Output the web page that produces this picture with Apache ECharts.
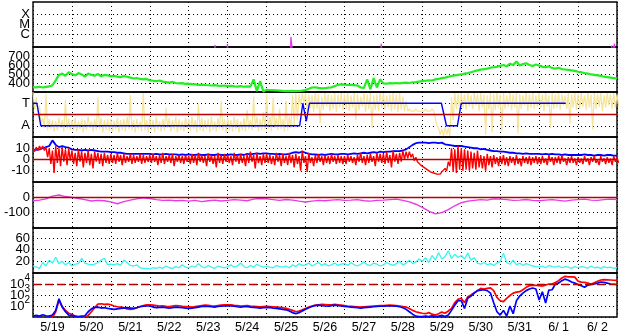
<!DOCTYPE html>
<html><head><meta charset="utf-8">
<script src="https://cdn.jsdelivr.net/npm/echarts@6/dist/echarts.min.js"></script>
<style>html,body{margin:0;padding:0;background:#fff}#c{width:628px;height:334px}</style>
</head><body><div id="c"></div>
<script>
// Day labels (centred on each UT day, 5/19 00UT = 0)
const dayLabels = ['5/19','5/20','5/21','5/22','5/23','5/24','5/25','5/26','5/27','5/28','5/29','5/30','5/31','6/ 1','6/ 2'];

// GOES X-ray flux (W/m2), sparse times (days since 5/19 00UT)
const xrayT = [0, 4.66, 4.675, 4.69, 4.98, 4.995, 5.01, 6.61, 6.625, 6.64, 6.66, 6.675, 8.93, 8.945, 8.96, 14.85, 14.865, 14.88, 14.92, 14.935, 14.95, 15];
const xrayV = [1e-8, 1e-8, 9e-8, 1e-8, 1e-8, 1.1e-7, 1e-8, 1e-8, 5.9e-7, 1.3e-7, 1.1e-7, 1e-8, 1e-8, 1.2e-7, 1e-8, 1e-8, 8e-8, 1e-8, 1e-8, 1.2e-7, 1e-8, 1e-8];
const xrayTicks = [-6, -5, -4];
const xrayTickLabels = ['C', 'M', 'X'];

// Solar wind speed (km/s), every 2 h
const speed = [
355,352,358,350,356,362,375,430,490,505,480,520,
500,485,510,495,470,505,490,480,500,475,490,485,
475,480,470,465,478,470,460,450,455,445,440,445,
430,425,420,428,415,410,405,412,400,395,398,390,
392,388,385,380,382,378,375,372,376,370,368,372,
365,368,362,360,365,358,362,360,440,310,420,305,
325,322,320,318,315,312,310,310,312,310,311,315,
322,335,350,352,345,340,342,348,352,365,380,385,
382,378,380,376,372,350,345,440,330,455,350,440,
395,392,398,396,400,395,402,405,400,408,410,415,
420,425,430,428,440,445,455,460,470,478,485,490,
495,505,510,520,530,540,548,555,560,570,575,580,
590,600,585,615,600,640,595,610,620,600,590,605,
595,580,575,585,565,560,570,555,550,545,540,535,
525,520,510,505,495,490,485,480,470,465,460,455,450];

// IMF angle scatter envelope per 2 h (T = +1, A = -1)
const phiHi = [
2.0,1.5,0.8,-0.3,1.8,-0.4,-0.5,-0.6,-0.3,-0.5,1.3,-0.4,
-0.5,-0.3,-0.6,-0.4,-0.5,-0.2,-0.6,-0.4,1.5,-0.3,-0.5,-0.4,
-0.4,-0.6,-0.3,-0.5,-0.4,-0.2,1.7,-0.5,-0.4,-0.6,1.9,-0.5,
-0.3,-0.5,-0.2,-0.6,-0.4,0.6,-0.3,-0.5,-0.2,-0.4,-0.6,-0.3,
-0.4,-0.2,-0.5,0.9,-0.3,-0.5,-0.4,-0.2,-0.6,-0.3,1.2,-0.4,
-0.3,-0.5,-0.2,-0.4,-0.6,-0.3,0.4,-0.5,1.6,-0.2,-0.4,0.2,
1.8,-0.2,1.5,-0.3,0.5,-0.4,1.2,-0.2,1.7,1.9,1.8,1.9,
1.9,1.8,1.7,1.9,1.8,1.6,1.9,1.8,1.7,1.9,1.8,1.9,
1.8,1.9,1.7,1.9,1.8,1.6,1.9,1.8,1.9,1.7,1.8,1.9,
1.9,1.7,1.8,1.9,1.8,1.9,1.6,1.2,0.5,0.45,0.5,0.45,
0.45,0.5,0.45,0.5,0.4,-1.2,-1.3,-1.1,-1.2,1.5,1.9,1.8,
1.9,1.8,1.9,1.7,1.9,1.8,1.9,1.8,1.7,1.9,1.8,1.9,
1.8,1.9,1.7,1.9,1.8,1.9,1.8,1.7,1.9,1.8,1.9,1.7,
1.9,1.8,1.9,1.7,1.9,1.8,1.9,1.8,1.7,1.9,1.8,1.9,
1.8,1.9,1.7,1.9,1.8,1.9,1.8,1.9,1.7,1.9,1.8,1.9,1.8];
const phiLo = [
0.5,0.2,-0.8,-1.2,-1.4,-1.3,-1.5,-1.4,-1.2,-1.5,-1.3,-1.4,
-1.4,-1.5,-1.3,-1.6,-1.4,-1.2,-1.5,-1.4,-1.3,-1.6,-1.4,-1.5,
-1.5,-1.3,-1.6,-1.4,-1.5,-1.3,-1.4,-1.6,-1.3,-1.5,-1.4,-1.6,
-1.4,-1.6,-1.3,-1.5,-1.4,-1.2,-1.5,-1.3,-1.6,-1.4,-1.5,-1.3,
-1.5,-1.3,-1.6,-1.4,-1.5,-1.3,-1.6,-1.4,-1.5,-1.3,-1.4,-1.6,
-1.4,-1.5,-1.3,-1.6,-1.4,-1.5,-1.3,-1.4,-1.2,-1.5,-1.4,-1.3,
-1.3,-1.5,-1.2,-1.4,-1.3,-1.5,-1.4,-1.2,-1.0,-0.5,0.8,1.0,
0.3,0.6,0.2,0.5,-0.8,0.4,0.7,0.3,0.5,0.2,0.6,0.4,
0.5,0.3,0.6,-0.5,0.4,0.7,0.2,0.5,-1.2,0.4,0.3,0.6,
0.4,0.6,0.3,0.5,0.2,0.4,0.3,0.3,0.3,0.3,0.3,0.3,
0.3,0.3,0.3,0.3,-1.0,-1.8,-1.9,-1.8,-1.9,-0.5,0.5,0.4,
0.6,0.4,0.7,0.5,0.8,0.3,0.6,-1.8,0.5,-1.6,0.4,0.6,
-1.5,0.5,0.7,0.4,0.6,-1.7,0.5,0.8,0.3,0.6,0.5,0.7,
0.6,0.3,0.7,-1.2,0.5,0.6,0.4,0.8,0.5,-0.8,0.6,0.4,
0.5,0.7,0.4,0.6,-1.3,0.5,0.7,0.3,0.6,0.8,0.5,0.6,0.7];

// Sector (T/A) step line
const sectorT = [0, 0.1, 0.2, 6.85, 6.93, 7.02, 7.1, 10.49, 10.62, 10.9, 11.0, 13.68];
const sectorV = [1, 1, -1, -1, 1, -0.6, 1, 1, -1, -1, 1, 1];

// IMF Bt (nT), every 2 h
const bt = [
9,8.5,9,10,11,12,17,13,11,12,11,10.5,
9,8.5,8.5,8,8.5,8,8.5,8,7.5,7,7,7,
6.5,6.5,6,6,5.5,5,5,5,5,5,5,5,
5,4.5,5,4.5,4.5,5,4.5,4.5,4.5,4,4.5,4,
4.5,4,4,4.5,4,4,4.5,4,4,4.5,4,4,
4,4.5,4,4,4.5,4,5,4.5,5,5.5,5,5.5,
5.5,5,5,4.5,5,4.5,4.5,5,6,6.5,6,7,
6,5,4.5,4.5,4,4.5,4,4.5,5,4.5,4.5,5,
5,4.5,5,5.5,5,5.5,6,5.5,6,6.5,6,7,
6.5,7,7,7.5,7.5,7.5,8,9,11,13,14.5,15,
15,15,14.5,15,15,14.5,15,13.5,13,12.5,12,12,
12,11.5,11,10.5,10,10,9,9.5,8.5,8,7.5,7.5,
7,7,6.5,6,6,5.5,5.5,5,5.5,5,5,5,
5,4.5,5,4.5,5,4.5,4.5,4,4.5,4,4,4,
4,4,4.5,4,4,3.5,4,4,3.5,4,4,3.5,3.5];

// IMF Bz (nT), per-2h high / low envelope
const bzHi = [
10,11,12,12,11,10,8,12,10,11,9,10,
8,6,9,7,6,8,5,7,6,5,6,4,
5,4,6,4,5,3,5,4,3,5,4,3,
4,5,3,4,6,3,4,5,3,4,3,4,
3,5,4,6,4,3,5,4,3,6,4,5,
4,3,6,4,5,3,5,7,4,6,3,5,
5,4,3,6,4,5,3,6,4,5,3,8,
3,6,2,4,5,3,4,3,5,3,4,3,
3,4,3,2,4,6,3,4,5,3,6,5,
5,7,4,8,5,6,8,7,7,5,2,-2,
-6,-8,-10,-11,-12,-12,-11,-8,-2,10,9,12,
10,9,8,7,6,8,4,3,5,3,4,2,
3,4,2,3,2,4,1,3,2,3,2,3,
2,3,1,4,2,2,3,4,1,2,3,1,
2,1,3,1,2,3,0,3,1,2,1,3,2];
const bzLo = [
7,8,9,8,2,-4,-12,-3,-6,-2,-5,-1,
-4,-6,-2,-7,-3,-5,-8,-2,-4,-6,-3,-4,
-3,-4,-2,-5,-3,-2,-4,-3,-2,-4,-3,-2,
-3,-2,-5,-3,-4,-2,-3,-6,-2,-3,-4,-2,
-4,-3,-5,-2,-3,-6,-2,-4,-7,-3,-4,-2,
-3,-5,-2,-4,-3,-6,-3,-2,-8,-3,-5,-3,
-3,-4,-5,-2,-6,-3,-5,-3,-7,-4,-10,-3,
-11,-3,-6,-3,-2,-5,-3,-4,-2,-4,-3,-4,
-4,-2,-3,-5,-2,-3,-5,-3,-2,-6,-2,-3,
-4,-3,-7,-2,-4,-2,0,1,2,-1,-2,-5,
-7,-9,-11,-12,-13,-13,-12,-10,-6,-11,-12,-9,
-10,-9,-10,-8,-9,-7,-8,-10,-5,-7,-4,-6,
-4,-5,-6,-3,-5,-4,-6,-3,-4,-5,-3,-4,
-4,-3,-5,-2,-5,-3,-4,-2,-5,-3,-3,-5,
-3,-4,-2,-5,-2,-3,-5,-2,-4,-3,-5,-2,-3];

// Dst (nT), every 4 h
const dst = [
-22,-18,-10,8,15,5,
0,-8,-15,-24,-20,-22,
-30,-42,-28,-18,-10,-3,
-8,-15,-20,-18,-22,-20,
-25,-20,-28,-22,-18,-24,
-20,-15,-18,-22,-12,-8,
-10,-15,-20,-14,-18,-25,
-30,-25,-20,-22,-18,-15,
-20,-18,-15,-22,-25,-20,
-18,-15,-12,-20,-30,-45,
-65,-90,-108,-100,-80,-55,
-35,-25,-20,-15,-18,-10,
-12,-15,-20,-18,-14,-20,
-22,-18,-15,-20,-25,-18,
-15,-12,-18,-20,-15,-12,-14];

// Proton density (/cc), every 2 h
const dens = [
12,10,8,18,12,22,17,27,16,20,14,18,
12,15,16,25,17,15,14,15,18,22,25,14,
15,14,16,13,22,18,13,12,14,9,8,8,
7,9,8,10,8,12,9,8,11,9,14,10,
9,12,10,16,11,9,13,10,8,12,10,9,
11,14,10,12,17,11,9,13,10,15,12,10,
12,10,9,13,11,10,12,9,14,11,16,13,
14,17,12,15,18,13,16,12,14,17,13,15,
16,13,18,14,12,15,19,14,13,17,15,12,
14,18,15,13,16,20,14,17,22,16,19,24,
20,26,18,30,22,35,24,28,38,25,32,27,
30,24,34,22,26,17,15,18,14,16,13,17,
20,34,18,15,22,14,17,13,16,14,12,11,
10,12,9,13,11,10,12,9,11,10,8,11,
9,11,10,8,12,9,10,8,11,9,10,8,9];

// Particle flux, two channels, every 2 h
const fluxRed = [
8,8,8,8,8,8,9,30,320,90,40,22,
18,12,9,9,10,14,30,70,150,160,140,150,
130,100,85,80,70,55,50,55,70,90,110,125,
130,120,110,100,105,95,90,100,110,105,95,90,
85,80,90,100,110,120,115,105,100,110,120,125,
130,125,115,110,100,105,110,100,95,90,85,90,
95,90,85,80,75,70,60,50,40,30,35,45,
60,80,100,120,130,140,135,125,130,140,130,120,
110,100,95,90,85,80,85,90,95,100,105,110,
110,115,120,115,110,100,90,80,60,40,30,25,
22,20,25,18,15,20,28,22,35,60,200,400,
500,200,700,1000,1600,2500,4000,3500,4000,4500,2500,600,
300,250,500,900,1500,1800,2000,3000,5000,7000,8000,7500,
7000,6500,8000,10000,10000,14000,20000,35000,50000,45000,44000,42000,
18000,15000,14000,12000,10000,13000,18000,23000,25000,24000,23000,22000,21000];
const fluxBlue = [
12,14,12,16,13,12,15,40,450,80,30,15,
14,12,11,12,13,30,55,75,80,65,70,60,
55,50,55,60,65,70,65,60,70,85,95,100,
100,80,70,75,80,70,65,70,80,75,70,65,
60,65,70,80,90,95,90,85,80,90,95,100,
105,100,95,85,80,85,90,80,75,70,65,70,
70,75,65,60,55,50,45,35,25,20,25,35,
50,70,90,110,120,110,100,95,110,120,110,100,
90,85,80,75,70,65,70,75,80,85,90,95,
95,100,105,100,95,85,70,50,30,18,12,11,
11,12,11,13,11,12,14,11,15,40,120,300,
300,60,500,800,1500,2500,2800,3000,2500,1500,200,30,
15,40,12,100,20,300,800,1500,2500,3500,4300,3500,
350,2000,190,2800,3000,10000,12000,20000,28000,22000,15000,12000,
9000,7000,5000,8000,9000,10000,12000,15000,14000,12000,10000,9500,9000];

// ---------- build ----------
const DT2 = 1/12, DT4 = 1/6;
const pairs = (arr, dt) => arr.map((v, i) => [i * dt, v]);
const zip = (t, v, f) => t.map((x, i) => [x, f ? f(v[i]) : v[i]]);
const env = (hi, lo, dt) => { const out = []; hi.forEach((h, i) => { out.push([i * dt, h]); out.push([i * dt + dt / 2, lo[i]]); }); return out; };

const FONT = 'Liberation Sans';
const tops = [2, 47, 92, 137, 182, 228, 273];
const hs = [45, 45, 45, 45, 46, 45, 44];
const dotStyle = {color: '#000', type: [1, 3], width: 1};
const dotted = {show: true, lineStyle: dotStyle};
const grids = tops.map((t, i) => ({left: 33, right: 11, top: t, height: hs[i], show: true, borderColor: '#000', borderWidth: 1.4, containLabel: false}));

const xAxes = tops.map((t, i) => ({
  type: 'value', gridIndex: i, min: 0, max: 15, interval: 1,
  axisLine: {show: false}, axisTick: {show: false}, axisLabel: {show: false},
  splitLine: dotted
}));
xAxes.push({
  type: 'category', gridIndex: 6, data: dayLabels, boundaryGap: true, position: 'bottom',
  axisLine: {show: false}, axisTick: {show: false}, splitLine: {show: false},
  axisLabel: {color: '#000', fontFamily: FONT, fontSize: 12.5, margin: 4}
});

const lab = (fmt, extra) => Object.assign({color: '#000', fontFamily: FONT, fontSize: 13, margin: 3, formatter: fmt}, extra || {});
const base = {axisLine: {show: false}, axisTick: {show: false}, splitLine: dotted};
const yAxes = [
  Object.assign({}, base, {type: 'value', gridIndex: 0, min: -7.25, max: -2.75,
    splitLine: {show: false}, axisLabel: {show: false}}),
  Object.assign({}, base, {type: 'value', gridIndex: 1, min: 300, max: 800, interval: 100,
    axisLabel: lab(v => (v >= 400 && v <= 700) ? String(v) : '')}),
  Object.assign({}, base, {type: 'value', gridIndex: 2, min: -2, max: 2, interval: 1,
    axisLabel: lab(v => v === 1 ? 'T' : (v === -1 ? 'A' : ''))}),
  Object.assign({}, base, {type: 'value', gridIndex: 3, min: -20, max: 20, interval: 10,
    axisLabel: lab(v => Math.abs(v) <= 10 ? String(v) : '')}),
  Object.assign({}, base, {type: 'value', gridIndex: 4, min: -200, max: 100, interval: 100,
    axisLabel: lab(v => (v === 0 || v === -100) ? String(v) : '')}),
  Object.assign({}, base, {type: 'value', gridIndex: 5, min: 0, max: 77, interval: 20,
    axisLabel: lab(v => (v >= 20 && v <= 60) ? String(v) : '')}),
  Object.assign({}, base, {type: 'log', logBase: 10, gridIndex: 6, min: 10, max: 100000,
    axisLabel: lab(v => { const e = Math.round(Math.log10(v)); return (e >= 2 && e <= 4) ? '{b|10}{s|' + e + '}' : ''; },
      {rich: {b: {fontFamily: FONT, fontSize: 13, color: '#000'}, s: {fontFamily: FONT, fontSize: 10, color: '#000', padding: [0, 0, 11, 0]}}})})
];

const ml = (y, type) => ({silent: true, symbol: 'none', label: {show: false}, animation: false,
  lineStyle: {color: '#b80000', type: type || 'solid', width: 1.3}, data: [{yAxis: y}]});
const xrayGrid = {silent: true, symbol: 'none', animation: false, lineStyle: dotStyle,
  label: {show: true, position: 'start', distance: 3, color: '#000', fontFamily: FONT, fontSize: 13},
  data: xrayTicks.map((v, i) => ({yAxis: v, label: {formatter: xrayTickLabels[i]}}))};
const line = (idx, data, color, w, extra) => Object.assign({
  type: 'line', xAxisIndex: idx, yAxisIndex: idx, data: data, showSymbol: false, symbol: 'none',
  lineStyle: {color: color, width: w}, itemStyle: {color: color}, animation: false, silent: true, clip: true
}, extra || {});

const series = [
  line(0, zip(xrayT, xrayV, v => Math.log10(v)), '#e83ae8', 1.3, {markLine: xrayGrid}),
  line(1, pairs(speed, DT2), '#22ee22', 2.2),
  line(2, env(phiHi, phiLo, DT2), '#f6e49a', 1.2, {markLine: ml(0)}),
  line(2, zip(sectorT, sectorV), '#0000ff', 1.4),
  line(3, pairs(bt, DT2), '#0000ff', 1.8, {markLine: ml(0)}),
  line(3, env(bzHi, bzLo, DT2), '#ff0000', 1.4),
  line(4, pairs(dst, DT4), '#e83ae8', 1.4, {markLine: ml(0)}),
  line(5, pairs(dens, DT2), '#3af4f4', 1.3),
  line(6, pairs(fluxRed, DT2), '#ff0000', 1.7, {markLine: ml(10000, [8, 4])}),
  line(6, pairs(fluxBlue, DT2), '#0000ff', 1.7)
];

const chart = echarts.init(document.getElementById('c'), null, {renderer: 'canvas'});
chart.setOption({animation: false, backgroundColor: '#fff', grid: grids, xAxis: xAxes, yAxis: yAxes, series: series});
</script></body></html>
